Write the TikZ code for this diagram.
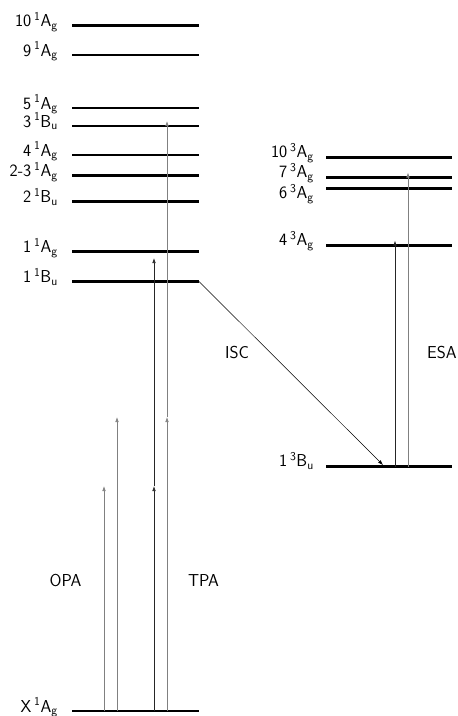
\documentclass[tikz,border=0pt]{standalone}
\usetikzlibrary{arrows.meta,calc}

\begin{document}
\begin{tikzpicture}[
  x=1pt, y=-1pt,
  font=\sffamily\fontsize{17.28}{20}\selectfont,
  %% Level styles
  level/.style={line width=2.6pt},
  lvllabel/.style={anchor=base east, inner sep=0pt},
  %% Arrow styles
  photon/.style={-{Latex[length=5pt,width=3.6pt]}, line width=0.7pt, draw=black!50},
  darkphoton/.style={photon, draw=black!85},
  iscarrow/.style={-{Latex[length=5pt,width=3.6pt]}, line width=0.5pt, draw=black},
  tag/.style={inner sep=0pt},
]
\useasboundingbox (0,0) rectangle (458,716);

%% -- Singlet manifold ------------------------------------------------------
\foreach \nm/\y/\lab in {
    S0/711/{X\,\textsuperscript{1}A\textsubscript{g}},
    S1Bu/281.5/{1\,\textsuperscript{1}B\textsubscript{u}},
    S1Ag/251.5/{1\,\textsuperscript{1}A\textsubscript{g}},
    S2Bu/201.5/{2\,\textsuperscript{1}B\textsubscript{u}},
    S23Ag/175.5/{2-3\,\textsuperscript{1}A\textsubscript{g}},
    S4Ag/155/{4\,\textsuperscript{1}A\textsubscript{g}},
    S3Bu/126/{3\,\textsuperscript{1}B\textsubscript{u}},
    S5Ag/108/{5\,\textsuperscript{1}A\textsubscript{g}},
    S9Ag/55/{9\,\textsuperscript{1}A\textsubscript{g}},
    S10Ag/25.5/{10\,\textsuperscript{1}A\textsubscript{g}}}
{
  \draw[level] (72,\y) coordinate (\nm-l) -- (199,\y) coordinate (\nm-r);
  \node[lvllabel] (\nm-lab) at (58,\y+1) {\lab};
}

%% -- Triplet manifold ------------------------------------------------------
\foreach \nm/\y/\dy/\lab in {
    T1Bu/466.5/0/{1\,\textsuperscript{3}B\textsubscript{u}},
    T4Ag/245.5/0/{4\,\textsuperscript{3}A\textsubscript{g}},
    T6Ag/188.5/10/{6\,\textsuperscript{3}A\textsubscript{g}},
    T7Ag/177.5/0/{7\,\textsuperscript{3}A\textsubscript{g}},
    T10Ag/157.5/0/{10\,\textsuperscript{3}A\textsubscript{g}}}
{
  \draw[level] (326,\y) coordinate (\nm-l) -- (452,\y) coordinate (\nm-r);
  \node[lvllabel] (\nm-lab) at (314,\y+\dy) {\lab};
}

%% -- One-photon absorption -------------------------------------------------
\coordinate (opaA) at (104,486);
\coordinate (opaB) at (117,417);
\draw[photon] (opaA |- S0-l) -- (opaA);
\draw[photon] (opaB |- S0-l) -- (opaB);

%% -- Two-photon absorption -------------------------------------------------
\coordinate (tpaA) at (154,486);
\coordinate (tpaAtop) at (154,258);
\coordinate (tpaB) at (167,417);
\coordinate (tpaBtop) at (167,121);
\draw[darkphoton] (tpaA |- S0-l) -- (tpaA);
\draw[darkphoton] (tpaA) -- (tpaAtop);
\draw[photon] (tpaB |- S0-l) -- (tpaB);
\draw[photon] (tpaB) -- (tpaBtop);

%% -- Intersystem crossing --------------------------------------------------
\coordinate (iscEnd) at (383,465);
\draw[iscarrow] (S1Bu-r) -- (iscEnd);

%% -- Excited-state absorption ----------------------------------------------
\coordinate (esaA) at (395,240.5);
\coordinate (esaB) at (408,172.5);
\draw[darkphoton] (esaA |- T1Bu-l) -- (esaA);
\draw[photon] (esaB |- T1Bu-l) -- (esaB);

%% -- Process labels --------------------------------------------------------
\node[tag] (opa) at (65.5,580.5) {OPA};
\node[tag] (tpa) at (203.5,580.5) {TPA};
\node[tag] (isc) at (237,352) {ISC};
\node[tag] (esa) at (442,352) {ESA};

\end{tikzpicture}
\end{document}
